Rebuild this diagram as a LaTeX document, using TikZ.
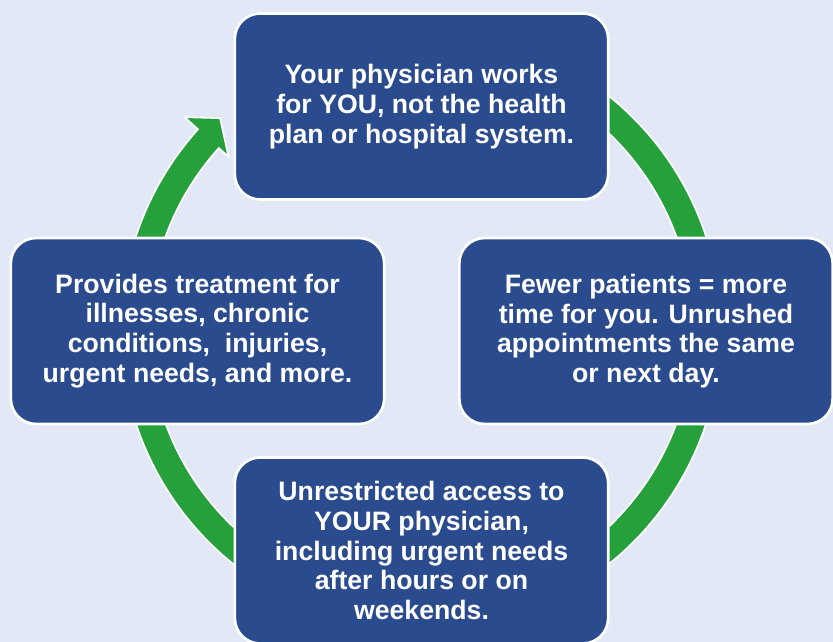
\documentclass[tikz,border=0pt]{standalone}
\usepackage{fontspec}
\setmainfont{Liberation Sans}
\usetikzlibrary{calc}

\definecolor{bgblue}{HTML}{E2E8F6}
\definecolor{boxblue}{HTML}{2B4B8F}
\definecolor{ringgreen}{HTML}{26A03B}

\begin{document}
\begin{tikzpicture}[x=0.75pt, y=-0.75pt,
    box/.style={draw=white, line width=2pt, fill=boxblue, rounded corners=19pt,
        minimum width=280pt, minimum height=139.5pt, inner sep=0pt,
        text=white, align=center, font=\fontsize{20}{22.3}\selectfont\bfseries}]
    \fill[bgblue] (0,0) rectangle (833,642);
    \useasboundingbox (0,0) rectangle (833,642);

    \coordinate (C) at (421,330);

    % ring with arrow
    \fill[ringgreen, draw=white, line width=1.2pt]
    ($(C)+(-60:300)$) arc[start angle=-60, end angle=222, radius=300] --
    ($(C)+(222:318)$) -- ($(C)+(226.5:292)$) -- ($(C)+(222:259)$) --
    ($(C)+(222:272)$) arc[start angle=222, end angle=-60, radius=272] -- cycle;

    \node[box] (top) at (421.5,106.5)
        {Your physician works\\for YOU, not the health\\plan or hospital system.};
    \node[box] (right) at (646,331)
        {Fewer patients = more\\time for you. Unrushed\\appointments the same\\or next day.};
    \node[box] (bottom) at (421.5,550.5)
        {Unrestricted access to\\YOUR physician,\\including urgent needs\\after hours or on\\weekends.};
    \node[box] (left) at (197.5,331)
        {Provides treatment for\\illnesses, chronic\\conditions,~ injuries,\\urgent needs, and more.};
\end{tikzpicture}
\end{document}
